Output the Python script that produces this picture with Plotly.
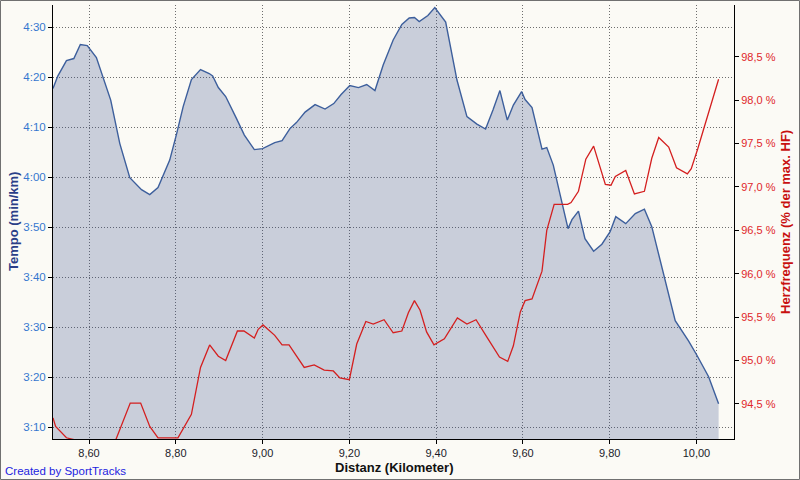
import plotly.graph_objects as go

# ---- data ----
dist_tempo = [8.517, 8.528, 8.548, 8.565, 8.580, 8.596, 8.617, 8.632, 8.650, 8.671,
              8.694, 8.721, 8.740, 8.759, 8.786, 8.802, 8.817, 8.836, 8.857, 8.877,
              8.885, 8.898, 8.915, 8.940, 8.958, 8.981, 9.000, 9.028, 9.045, 9.063,
              9.078, 9.098, 9.121, 9.144, 9.164, 9.181, 9.201, 9.221, 9.240, 9.259,
              9.278, 9.301, 9.321, 9.338, 9.350, 9.361, 9.381, 9.397, 9.422, 9.448,
              9.471, 9.494, 9.514, 9.531, 9.547, 9.564, 9.578, 9.597, 9.605, 9.621,
              9.632, 9.644, 9.655, 9.670, 9.686, 9.704, 9.713, 9.728, 9.743, 9.763,
              9.782, 9.801, 9.814, 9.837, 9.859, 9.880, 9.897, 9.924, 9.951, 9.982,
              10.001, 10.028, 10.051]
tempo_sec = [257.7, 260.2, 263.3, 263.7, 266.5, 266.3, 263.9, 260.1, 255.4, 246.7,
             239.9, 237.5, 236.5, 237.9, 243.4, 248.7, 254.1, 259.5, 261.5, 260.7,
             260.2, 257.9, 256.1, 251.7, 248.4, 245.5, 245.7, 246.9, 247.3, 249.7,
             250.9, 253.0, 254.5, 253.6, 254.7, 256.5, 258.3, 257.9, 258.5, 257.3,
             262.4, 267.4, 270.5, 271.8, 271.9, 271.1, 272.3, 273.9, 271.0, 259.4,
             252.1, 250.6, 249.6, 253.4, 257.3, 251.4, 254.4, 257.1, 255.5, 253.9,
             250.1, 245.6, 245.9, 242.4, 236.4, 229.7, 231.5, 233.2, 227.7, 225.2,
             226.6, 229.1, 232.1, 230.7, 232.7, 233.6, 230.1, 220.7, 211.3, 207.2,
             204.4, 200.1, 194.7]

dist_hr = [8.517, 8.523, 8.548, 8.565, 8.600, 8.630, 8.662, 8.695, 8.719, 8.740,
           8.759, 8.805, 8.836, 8.857, 8.878, 8.898, 8.915, 8.942, 8.957, 8.981,
           8.990, 9.001, 9.028, 9.045, 9.061, 9.082, 9.096, 9.119, 9.142, 9.163,
           9.178, 9.200, 9.217, 9.238, 9.255, 9.280, 9.301, 9.321, 9.336, 9.350,
           9.363, 9.378, 9.395, 9.419, 9.449, 9.471, 9.492, 9.517, 9.546, 9.565,
           9.578, 9.594, 9.605, 9.621, 9.644, 9.655, 9.672, 9.703, 9.711, 9.728,
           9.745, 9.763, 9.790, 9.803, 9.813, 9.837, 9.857, 9.880, 9.897, 9.913,
           9.936, 9.954, 9.979, 9.988, 10.003, 10.051]
hr_pct = [94.34, 94.24, 94.11, 94.09, 93.90, 93.90, 94.09, 94.51, 94.51, 94.24,
          94.11, 94.11, 94.38, 94.92, 95.18, 95.05, 95.00, 95.34, 95.34, 95.26,
          95.36, 95.41, 95.29, 95.18, 95.18, 95.02, 94.92, 94.95, 94.89, 94.88,
          94.80, 94.78, 95.19, 95.45, 95.42, 95.47, 95.32, 95.34, 95.55, 95.69,
          95.58, 95.33, 95.18, 95.25, 95.49, 95.42, 95.47, 95.27, 95.04, 94.99,
          95.17, 95.56, 95.69, 95.71, 96.03, 96.50, 96.80, 96.80, 96.82, 96.95,
          97.32, 97.47, 97.03, 97.02, 97.12, 97.19, 96.92, 96.95, 97.33, 97.57,
          97.46, 97.22, 97.15, 97.21, 97.44, 98.24]

tempo_tick_vals = [190, 200, 210, 220, 230, 240, 250, 260, 270]
tempo_tick_text = ["3:10", "3:20", "3:30", "3:40", "3:50", "4:00", "4:10", "4:20", "4:30"]
dist_tick_vals = [8.6, 8.8, 9.0, 9.2, 9.4, 9.6, 9.8, 10.0]
dist_tick_text = ["8,60", "8,80", "9,00", "9,20", "9,40", "9,60", "9,80", "10,00"]
hr_tick_vals = [94.5, 95.0, 95.5, 96.0, 96.5, 97.0, 97.5, 98.0, 98.5]
hr_tick_text = ["94,5 %", "95,0 %", "95,5 %", "96,0 %", "96,5 %", "97,0 %", "97,5 %",
                "98,0 %", "98,5 %"]

assert len(dist_tempo) == len(tempo_sec)
assert len(dist_hr) == len(hr_pct)

# ---- layout geometry ----
W, H = 800, 480
ML, MR, MT, MB = 53, 66, 5, 41
PW, PH = W - ML - MR, H - MT - MB

def px_x(px):
    return (px - ML) / PW

def px_y(py):
    return (H - MB - py) / PH

BG = "#FBFAF5"
GRID = "#6E6E6E"
FONT = "Liberation Sans, Arial, sans-serif"

fig = go.Figure()
fig.add_trace(go.Scatter(
    x=dist_tempo, y=tempo_sec, mode="lines", fill="tozeroy",
    fillcolor="rgba(50,77,140,0.25)",
    line=dict(color="#3D5F9C", width=1.4), yaxis="y", hoverinfo="skip",
    showlegend=False))
fig.add_trace(go.Scatter(
    x=dist_hr, y=hr_pct, mode="lines",
    line=dict(color="#D41F1F", width=1.3), yaxis="y2", hoverinfo="skip",
    showlegend=False))

axis_common = dict(showline=True, linecolor="black", linewidth=1, ticks="outside",
                   ticklen=4, tickcolor="black", zeroline=False)

fig.update_layout(
    width=W, height=H,
    margin=dict(l=ML, r=MR, t=MT, b=MB, pad=0),
    paper_bgcolor=BG, plot_bgcolor=BG,
    font=dict(family=FONT, size=11),
    xaxis=dict(range=[8.517, 10.0865], tickvals=dist_tick_vals, ticktext=dist_tick_text,
               showgrid=True, gridcolor=GRID, gridwidth=1, griddash="1px,2px",
               tickfont=dict(size=11, color="#1A1A2A"), **axis_common),
    yaxis=dict(range=[187.66, 274.4], tickvals=tempo_tick_vals, ticktext=tempo_tick_text,
               showgrid=True, gridcolor=GRID, gridwidth=1, griddash="1px,2px",
               tickfont=dict(size=11.5, color="#3577CF"), **axis_common),
    yaxis2=dict(range=[94.096, 99.096], tickvals=hr_tick_vals, ticktext=hr_tick_text,
                overlaying="y", side="right", showgrid=False,
                tickfont=dict(size=11, color="#E0262A"), **axis_common),
    annotations=[
        dict(text="<b>Distanz (Kilometer)</b>", xref="paper", yref="paper",
             x=0.5, y=px_y(467), xanchor="center", yanchor="middle", showarrow=False,
             font=dict(size=13, color="#111111")),
        dict(text="<b>Tempo (min/km)</b>", xref="paper", yref="paper",
             x=px_x(13), y=px_y(222), xanchor="center", yanchor="middle", showarrow=False,
             textangle=-90, font=dict(size=13, color="#2A3F88")),
        dict(text="<b>Herzfrequenz (% der max. HF)</b>", xref="paper", yref="paper",
             x=px_x(785), y=px_y(222), xanchor="center", yanchor="middle", showarrow=False,
             textangle=-90, font=dict(size=13, color="#C81010")),
        dict(text="Created by SportTracks", xref="paper", yref="paper",
             x=px_x(3), y=px_y(471), xanchor="left", yanchor="middle", showarrow=False,
             font=dict(size=11.5, color="#2323E0")),
    ],
    shapes=[
        dict(type="rect", xref="paper", yref="paper",
             x0=px_x(0.5), x1=px_x(W - 0.5), y0=px_y(H - 0.5), y1=px_y(0.5),
             line=dict(color="#707070", width=1), layer="above"),
    ],
)

fig.write_html("out.html", config={"displayModeBar": False},
               post_script="document.body.style.margin='0';document.body.style.overflow='hidden';")
